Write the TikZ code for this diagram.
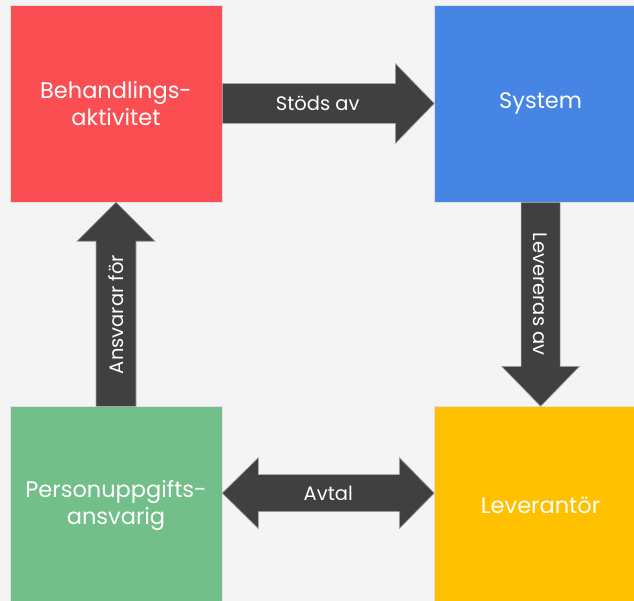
\documentclass[tikz,border=0pt]{standalone}
\usepackage{fontspec}
\setmainfont{Poppins}
\usetikzlibrary{calc,positioning}
\definecolor{bgcol}{HTML}{F4F4F4}
\definecolor{redbox}{HTML}{FB4E53}
\definecolor{bluebox}{HTML}{4685E3}
\definecolor{greenbox}{HTML}{72BF8A}
\definecolor{yellowbox}{HTML}{FFC000}
\definecolor{arrowgrey}{HTML}{404040}
\tikzset{
	box/.style={draw=black!12, line width=0.6pt, minimum width=212pt, minimum height=197pt, inner sep=0pt, text=white, align=center, font=\fontsize{22.5}{27}\selectfont},
	blockarrow/.style={fill=arrowgrey, draw=black!35, line width=0.6pt},
	arrowlabel/.style={text=white, inner sep=0pt, font=\fontsize{19.5}{22}\selectfont}
}

\begin{document}
\begin{tikzpicture}[x=1pt,y=-1pt]
				\clip (0,0) rectangle (634,601);
				\fill[bgcol] (0,0) rectangle (634,601);
				
				\node[box, fill=redbox] (aktivitet) at (116,103.5) {Behandlings-\\aktivitet};
				\node[box, fill=bluebox, right=212pt of aktivitet] (system) {System};
				\node[box, fill=greenbox, below=204pt of aktivitet] (ansvarig) {Personuppgifts-\\ansvarig};
				\node[box, fill=yellowbox, below=204pt of system] (leverantor) {Leverantör};
				
				\draw[blockarrow] ($(aktivitet.east)+(0,20)$) -- ($(system.west)+(-39,20)$) -- ($(system.west)+(-39,40)$) -- (system.west) -- ($(system.west)+(-39,-40)$) -- ($(system.west)+(-39,-20)$) -- ($(aktivitet.east)+(0,-20)$) -- cycle;
				\node[arrowlabel] (stods) at ($(aktivitet.east)!0.45!(system.west)$) {Stöds av};
				
				\draw[blockarrow] ($(system.south)+(-19.5,0)$) -- ($(leverantor.north)+(-19.5,-40)$) -- ($(leverantor.north)+(-39,-40)$) -- (leverantor.north) -- ($(leverantor.north)+(39,-40)$) -- ($(leverantor.north)+(19.5,-40)$) -- ($(system.south)+(19.5,0)$) -- cycle;
				\node[arrowlabel, rotate=-90] (levereras) at ($(system.south)!0.45!(leverantor.north)$) {Levereras av};
				
				\draw[blockarrow] ($(ansvarig.north)+(-20,0)$) -- ($(aktivitet.south)+(-20,39)$) -- ($(aktivitet.south)+(-39,39)$) -- (aktivitet.south) -- ($(aktivitet.south)+(39,39)$) -- ($(aktivitet.south)+(20,39)$) -- ($(ansvarig.north)+(20,0)$) -- cycle;
				\node[arrowlabel, rotate=90] (ansvarar) at ($(ansvarig.north)!0.45!(aktivitet.south)$) {Ansvarar för};
				
				\coordinate (avtalL) at ($(ansvarig.east)+(0,-12)$);
				\coordinate (avtalR) at ($(leverantor.west)+(0,-12)$);
				\draw[blockarrow] (avtalL) -- ($(avtalL)+(36,-35.5)$) -- ($(avtalL)+(36,-18.5)$) -- ($(avtalR)+(-35,-18.5)$) -- ($(avtalR)+(-35,-35.5)$) -- (avtalR) -- ($(avtalR)+(-35,35.5)$) -- ($(avtalR)+(-35,18.5)$) -- ($(avtalL)+(36,18.5)$) -- ($(avtalL)+(36,35.5)$) -- cycle;
				\node[arrowlabel] (avtal) at ($(avtalL)!0.5!(avtalR)$) {Avtal};
\end{tikzpicture}
\end{document}
